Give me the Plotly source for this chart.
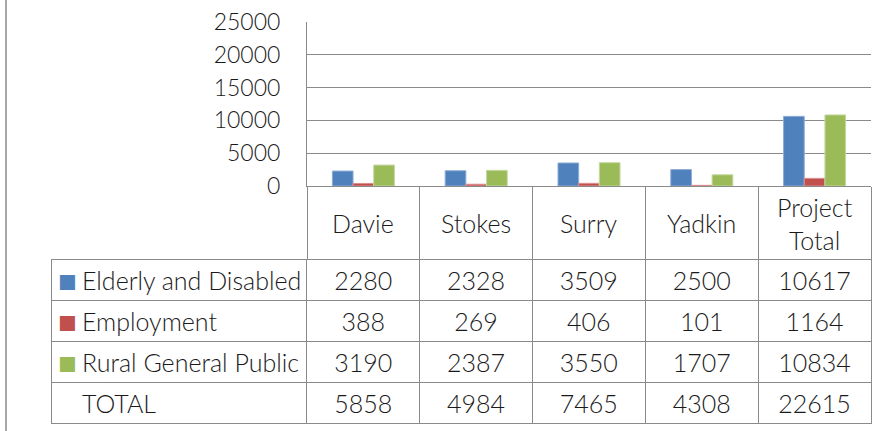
import plotly.graph_objects as go

# ---------------- data ----------------
categories = ["Davie", "Stokes", "Surry", "Yadkin", "Project Total"]
header_labels = ["Davie", "Stokes", "Surry", "Yadkin", "Project<br>Total"]
series_names = ["Elderly and Disabled", "Employment", "Rural General Public"]
elderly = [2280, 2328, 3509, 2500, 10617]
employment = [388, 269, 406, 101, 1164]
rural = [3190, 2387, 3550, 1707, 10834]
totals = [5858, 4984, 7465, 4308, 22615]
total_label = "TOTAL"
y_tick_values = [0, 5000, 10000, 15000, 20000, 25000]

# ---------------- style ----------------
W, H = 872, 431
colors = ["#4F81BD", "#C0504D", "#9BBB59"]
edge_colors = ["#8EADD6", "#DA8F8D", "#C3D89F"]
line_gray = "#8A8A8A"
text_color = "#1A1A1A"
FONT = "Lato"
FW = 300
FS = 25
ROW_H = 41
TEXT_SHIFT = 4   # px the cell text sits lower than plotly's default cell padding
KEY_SIZE = 31
KEY_SHIFT = 2
RIGHT = 871


def fx(px):
    return px / W


def fy(px):
    return 1 - px / H


fig = go.Figure()

series_values = [elderly, employment, rural]
for name, vals, c, ec in zip(series_names, series_values, colors, edge_colors):
    fig.add_trace(go.Bar(
        x=categories, y=vals, name=name,
        marker=dict(color=c, line=dict(color=ec, width=1)),
        showlegend=False,
    ))

# ---------------- data table ----------------
rows = [elderly, employment, rural, totals]
labels = [s.replace(" ", "\u00a0") for s in series_names + [total_label]]
ncat = len(categories)
clear = "rgba(0,0,0,0)"

# grid (cell borders)
fig.add_trace(go.Table(
    domain=dict(x=[fx(51), fx(RIGHT)], y=[fy(424), fy(259)]),
    columnwidth=[256] + [113] * ncat,
    header=dict(values=[""] * (ncat + 1), height=ROW_H,
                line=dict(color=line_gray, width=1), fill=dict(color="white"),
                font=dict(family=FONT, size=FS)),
    cells=dict(values=[[""] * (len(rows) - 1)] * (ncat + 1), height=ROW_H,
               line=dict(color=line_gray, width=1), fill=dict(color="white"),
               font=dict(family=FONT, size=FS)),
))

# text layer: label column + value columns
first = [labels[0]] + [str(v) for v in rows[0]]
rest = [labels[1:]] + [[str(r[j]) for r in rows[1:]] for j in range(ncat)]
aligns = ["left"] + ["center"] * ncat
tfont = dict(family=FONT, size=FS, color=text_color, weight=FW)
fig.add_trace(go.Table(
    domain=dict(x=[fx(74), fx(RIGHT)], y=[fy(424 + TEXT_SHIFT), fy(259 + TEXT_SHIFT)]),
    columnwidth=[233] + [113] * ncat,
    header=dict(values=first, height=ROW_H, align=aligns,
                line=dict(color=clear, width=0), fill=dict(color=clear), font=tfont),
    cells=dict(values=rest, height=ROW_H, align=aligns,
               line=dict(color=clear, width=0), fill=dict(color=clear), font=tfont),
))

# legend keys (coloured squares) in the label column
key_colors = colors + [clear]
fig.add_trace(go.Table(
    domain=dict(x=[fx(50), fx(80)], y=[fy(424 + KEY_SHIFT), fy(259 + KEY_SHIFT)]),
    columnwidth=[1],
    header=dict(values=["■"], height=ROW_H, align="left",
                line=dict(color=clear, width=0), fill=dict(color=clear),
                font=dict(family=FONT, size=KEY_SIZE, color=key_colors[0])),
    cells=dict(values=[["■"] * (len(rows) - 1)], height=ROW_H, align="left",
               line=dict(color=clear, width=0), fill=dict(color=clear),
               font=dict(family=FONT, size=KEY_SIZE, color=[key_colors[1:]])),
))

# category header labels
for cat, lbl in zip(categories, header_labels):
    fig.add_annotation(
        x=cat, xref="x", y=fy(223), yref="paper",
        text=lbl, showarrow=False, yanchor="middle", xanchor="center",
        font=dict(family=FONT, size=FS, color=text_color, weight=FW),
    )

# chart border on the left
fig.add_shape(type="line", xref="paper", yref="paper",
              x0=fx(6), x1=fx(6), y0=0, y1=1,
              line=dict(color=line_gray, width=1.5))

fig.update_layout(
    width=W, height=H,
    margin=dict(l=0, r=0, t=0, b=0),
    paper_bgcolor="white", plot_bgcolor="white",
    barmode="group", bargap=0.45, bargroupgap=0,
    font=dict(family=FONT, size=FS, color=text_color, weight=FW),
    xaxis=dict(
        domain=[fx(307), fx(RIGHT)],
        type="category",
        range=[-0.5, ncat - 0.5],
        showticklabels=False,
        showgrid=False,
        showline=True, linecolor=line_gray, linewidth=1,
        ticks="outside", tickson="boundaries", ticklen=73,
        tickcolor=line_gray, tickwidth=1,
        fixedrange=True,
    ),
    yaxis=dict(
        domain=[fy(186), fy(22)],
        range=[0, 25000],
        tickvals=y_tick_values,
        ticktext=[str(v) for v in y_tick_values],
        showgrid=True, gridcolor=line_gray, gridwidth=1,
        showline=True, linecolor=line_gray, linewidth=1,
        zeroline=False,
        ticks="", ticklabelstandoff=21,
        automargin=False,
        tickfont=dict(family=FONT, size=FS - 2, color=text_color, weight=FW),
        fixedrange=True,
    ),
)

fig.write_html("out.html", config={"displayModeBar": False},
               post_script="document.body.style.margin='0';")
